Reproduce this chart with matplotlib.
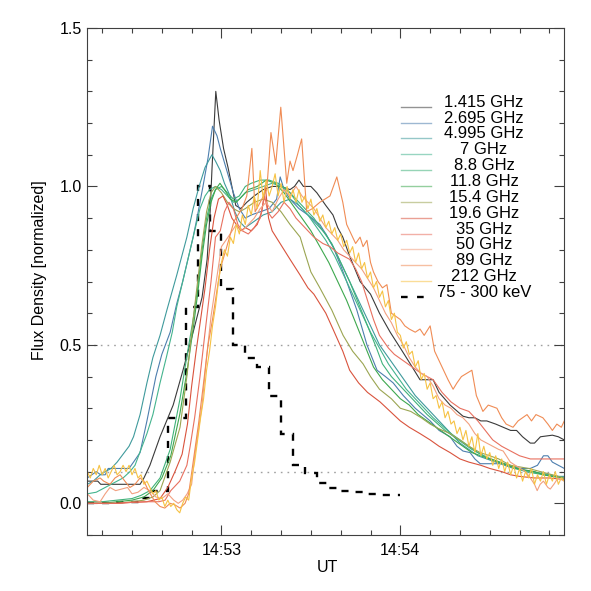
import matplotlib
matplotlib.use("Agg")
import matplotlib.pyplot as plt
import numpy as np
from matplotlib.ticker import MultipleLocator, FixedLocator, FixedFormatter

plt.rcParams['font.family'] = ['Liberation Sans', 'DejaVu Sans']

# time in seconds after 14:52:00 UT, normalized flux density
f1415 = [(15,0.07),(18.5,0.07),(19.5,0.06),(32.7,0.06),(34,0.08),(36,0.12),(39.4,0.21),(43.8,0.31),(47.1,0.42),(50.5,0.54),(53.5,0.65),(55.2,0.77),(56.2,0.92),(56.8,1.05),(58.1,1.30),(59.2,1.21),(60.7,1.12),(62.2,1.06),(63.5,1.0),(64.8,0.94),(66.5,0.93),(68.5,0.95),(71,0.97),(74,0.99),(77,1.0),(80,1.0),(83,0.99),(84.5,1.0),(86,1.02),(87.5,1.0),(90,1.0),(92,0.98),(95,0.94),(97.4,0.91),(99,0.87),(100.7,0.84),(103,0.78),(106.5,0.70),(110,0.66),(113,0.60),(116.6,0.54),(120,0.49),(124,0.43),(126.6,0.39),(129,0.39),(131,0.39),(133,0.35),(136.7,0.31),(141,0.275),(143,0.27),(145,0.27),(147,0.26),(149,0.26),(152,0.25),(154.5,0.24),(157,0.23),(159,0.23),(161,0.21),(163.6,0.19),(165,0.19),(167,0.21),(171,0.215),(173,0.21),(175,0.20)]
f2695 = [(15,0.08),(16.5,0.09),(18,0.10),(19.5,0.09),(21,0.09),(22,0.11),(29,0.11),(30.5,0.13),(32.7,0.16),(35,0.26),(38,0.40),(40,0.47),(42.8,0.54),(45,0.63),(47,0.70),(49,0.78),(50.5,0.84),(52,0.91),(53.8,1.0),(55.5,1.09),(57,1.19),(58.5,1.16),(59.6,1.12),(61.8,1.05),(64,0.98),(66,0.93),(68,0.90),(70,0.91),(73,0.92),(76,0.93),(78.5,0.96),(79.7,1.03),(81,0.99),(83,0.96),(86,0.93),(89,0.91),(93,0.88),(95,0.85),(97.4,0.81),(100,0.75),(102,0.70),(105.4,0.61),(108.8,0.50),(112.2,0.42),(115,0.40),(117.6,0.38),(121,0.34),(125,0.30),(130,0.26),(133,0.23),(136.7,0.21),(139,0.18),(141,0.165),(143.4,0.16),(145,0.14),(146.8,0.125),(154.5,0.125),(157,0.12),(160,0.11),(163.6,0.11),(166,0.12),(168,0.15),(169.5,0.15),(171,0.13),(173,0.12),(175,0.11)]
f4995 = [(15,0.06),(17,0.07),(19.3,0.09),(21,0.10),(23,0.11),(25,0.13),(27,0.155),(29,0.18),(30.5,0.21),(32.7,0.28),(35,0.38),(37,0.46),(39.4,0.53),(41.7,0.61),(45,0.72),(48.4,0.84),(50.5,0.93),(52.5,1.0),(54.5,1.06),(56.8,1.10),(58,1.08),(59.6,1.05),(61,1.01),(62.9,0.97),(64.5,0.92),(66,0.89),(68,0.87),(71,0.89),(74,0.91),(77,0.92),(80,0.95),(83,0.96),(86,0.94),(89,0.91),(92,0.88),(95,0.85),(98,0.80),(101,0.74),(104,0.68),(107,0.62),(110,0.56),(113,0.50),(116,0.46),(119,0.42),(122,0.38),(125,0.34),(128,0.31),(131,0.28),(134,0.25),(137,0.22),(140,0.19),(143,0.17),(146,0.15),(149,0.14),(152,0.13),(155,0.12),(158,0.11),(161,0.105),(164,0.10),(167,0.095),(170,0.09),(173,0.085),(175,0.085)]
f7 = [(15,0.03),(18,0.035),(21,0.05),(24,0.065),(27,0.08),(29.3,0.10),(31,0.12),(33,0.17),(35,0.22),(37,0.28),(39.4,0.38),(41.5,0.46),(43.5,0.54),(45,0.62),(47,0.70),(49,0.78),(50.5,0.84),(52.8,0.93),(54.5,0.97),(56,0.99),(58,1.0),(60,0.99),(62,0.97),(64,0.95),(66,0.96),(68,0.98),(71,0.99),(74,1.0),(77,1.01),(80,1.0),(83,0.98),(86,0.94),(89,0.91),(92,0.87),(95,0.83),(98,0.78),(101,0.72),(104,0.66),(107,0.60),(110,0.54),(113,0.49),(116,0.44),(119,0.40),(122,0.36),(125,0.33),(128,0.30),(131,0.27),(134,0.245),(137,0.22),(140,0.20),(143,0.18),(146,0.16),(149,0.145),(152,0.135),(155,0.125),(158,0.115),(161,0.105),(164,0.10),(167,0.095),(170,0.09),(175,0.08)]
f88 = [(15,0.005),(20,0.005),(25,0.01),(30,0.015),(33,0.025),(36,0.04),(39.4,0.08),(42.8,0.17),(46.1,0.33),(48.5,0.47),(50.5,0.58),(52,0.68),(53.5,0.80),(55,0.90),(56.5,0.96),(58,0.99),(60,1.0),(62,0.98),(64,0.96),(66,0.97),(68,1.0),(70,1.01),(73,1.02),(76,1.02),(79,1.01),(82,0.99),(85,0.96),(88,0.93),(91,0.90),(94,0.86),(97,0.82),(100,0.76),(103,0.70),(106,0.63),(109,0.56),(112,0.49),(114,0.44),(117,0.40),(120,0.37),(123,0.34),(126,0.31),(129,0.28),(132,0.255),(135,0.23),(138,0.21),(141,0.19),(144,0.17),(147,0.155),(150,0.14),(153,0.13),(156,0.12),(159,0.11),(162,0.10),(165,0.095),(168,0.09),(171,0.085),(175,0.08)]
f118 = [(15,0.0),(20,0.0),(25,0.005),(30,0.01),(34,0.02),(37,0.04),(40,0.08),(43,0.15),(46,0.28),(48.5,0.42),(50.5,0.55),(52,0.66),(53.5,0.78),(55,0.88),(56.5,0.95),(58,0.99),(59.5,1.01),(61,0.99),(63,0.96),(65,0.95),(67,0.97),(69,0.99),(72,1.0),(75,1.02),(78,1.01),(81,0.98),(84,0.94),(87,0.90),(90,0.86),(93,0.81),(96,0.76),(99,0.70),(102,0.64),(105,0.57),(108,0.50),(111,0.43),(114,0.39),(117,0.36),(120,0.33),(123,0.31),(126,0.28),(129,0.26),(132,0.24),(135,0.22),(138,0.20),(141,0.18),(144,0.16),(147,0.15),(150,0.14),(153,0.13),(156,0.12),(159,0.11),(162,0.105),(165,0.10),(168,0.09),(171,0.085),(175,0.08)]
f154 = [(15,0.0),(20,0.0),(25,0.0),(30,0.005),(34,0.01),(37,0.02),(39.4,0.04),(42.8,0.13),(46.1,0.24),(48.4,0.40),(50.5,0.58),(52,0.70),(53.5,0.82),(55,0.92),(56.5,0.98),(58,1.0),(60,0.98),(62,0.95),(64,0.93),(66,0.92),(68,0.93),(71,0.95),(74,0.96),(77,0.95),(80,0.92),(83,0.88),(86.4,0.84),(88,0.79),(90,0.73),(93,0.68),(97,0.61),(100.8,0.53),(104,0.48),(107.5,0.44),(110,0.40),(113,0.36),(117,0.33),(120,0.30),(123.5,0.29),(127,0.27),(130,0.25),(133,0.235),(136.7,0.22),(140,0.20),(143,0.18),(146.8,0.16),(150,0.15),(153,0.14),(156.9,0.12),(160,0.115),(163,0.11),(167,0.10),(171,0.09),(175,0.08)]
f196 = [(15,0.0),(20,0.0),(25,0.0),(30,0.003),(35,0.005),(39.4,0.015),(42,0.05),(44.4,0.10),(46.8,0.155),(48.6,0.25),(50,0.37),(51.5,0.48),(53,0.58),(54.5,0.68),(56,0.80),(57.5,0.90),(59,0.96),(60.5,0.97),(62,0.94),(63.5,0.90),(65,0.88),(66.5,0.86),(68,0.87),(70,0.86),(72,0.88),(73.5,0.92),(74.7,1.0),(75.8,0.90),(77,0.86),(79,0.83),(81,0.80),(83,0.77),(86.4,0.72),(89,0.68),(91,0.66),(93,0.63),(95,0.60),(97.4,0.55),(100.7,0.48),(103,0.42),(106,0.38),(109,0.35),(113.2,0.32),(116.6,0.29),(120,0.26),(123,0.24),(126.6,0.22),(130,0.20),(133,0.18),(136.7,0.16),(140,0.14),(143,0.13),(147,0.12),(150,0.11),(154,0.10),(157,0.09),(160,0.085),(165,0.08),(170,0.08),(175,0.075)]
f35 = [(15,0.0),(20,0.0),(25,0.0),(30,0.003),(35,0.005),(39,0.005),(41.1,0.01),(43,0.04),(46,0.07),(48.4,0.12),(49.5,0.18),(51,0.27),(52.8,0.40),(54.5,0.54),(56.5,0.70),(58,0.84),(59.6,0.86),(61,0.92),(62.5,0.95),(64,0.93),(65.5,0.88),(67,0.86),(69,0.85),(71,0.87),(73,0.90),(74.5,0.97),(75.5,0.92),(77,0.90),(79,0.92),(81,0.95),(83,0.93),(85,0.90),(88,0.87),(91,0.84),(94,0.82),(96.4,0.81),(99,0.79),(101,0.78),(103,0.77),(105,0.74),(107,0.70),(109,0.64),(111,0.58),(113,0.53),(116,0.49),(118,0.47),(121,0.45),(124,0.43),(127,0.41),(131,0.39),(134,0.35),(137,0.32),(140,0.30),(143,0.29),(146,0.26),(148.5,0.23),(151,0.20),(154,0.18),(157,0.165),(160,0.15),(163.6,0.14),(167,0.14),(171,0.14),(175,0.14)]
f50 = [(15,0.03),(17,0.01),(19.3,0.005),(21,0.03),(22.6,0.05),(24.5,0.04),(26.5,0.045),(28.5,0.05),(30,0.03),(32,0.035),(34,0.05),(36,0.04),(38,0.02),(40,0.015),(42,0.03),(44,0.01),(45.5,0.0),(47,0.01),(48.5,0.03),(50,0.06),(51.1,0.155),(53.5,0.31),(55,0.46),(56.5,0.59),(58.4,0.71),(60,0.81),(62.2,0.84),(65,0.88),(67,0.86),(69,0.88),(71,0.90),(73,0.93),(75,0.95),(77,0.92),(79,0.96),(81,0.99),(83,0.97),(85,1.0),(87,0.97),(89,0.95),(91,0.93),(93,0.90),(95,0.87),(97,0.85),(99,0.83),(101,0.80),(103,0.78),(105,0.76),(107,0.74),(109,0.71),(111,0.68),(113,0.64),(115,0.60),(117,0.57),(119,0.53),(121,0.50),(123,0.46),(125,0.43),(127,0.41),(129,0.40),(131,0.37),(133,0.33),(135,0.31),(137,0.30),(139,0.28),(141,0.27),(143,0.25),(145,0.22),(147,0.20),(149,0.19),(151,0.18),(153,0.17),(154.5,0.165),(156.9,0.13),(160.2,0.11),(162,0.10),(163.6,0.08),(165,0.06),(165.9,0.04),(166.9,0.06),(168,0.07),(169.5,0.05),(170.3,0.045),(171.5,0.06),(172.9,0.08),(175,0.07)]
f89 = [(15,0.05),(17,0.07),(19.3,0.08),(20.5,0.07),(22.6,0.06),(24.3,0.08),(26,0.09),(27.6,0.07),(29.3,0.05),(31,0.06),(32.7,0.08),(34,0.07),(35.5,0.04),(37.7,0.005),(39.4,-0.01),(41,-0.015),(42.8,0.0),(44.4,-0.005),(46.1,-0.015),(47.8,0.0),(49,0.03),(50.5,0.13),(52.3,0.25),(54,0.38),(55.5,0.50),(57,0.58),(59.6,0.74),(61.8,0.81),(64.2,0.89),(66.9,0.93),(68.5,0.97),(70.2,1.12),(71.3,0.92),(73,0.95),(75.2,0.99),(76.6,1.17),(78.2,1.07),(79.9,1.25),(81.9,1.01),(83,1.08),(84,1.05),(85.5,1.10),(86.9,1.15),(88.6,0.92),(90.5,0.93),(93,0.95),(96.4,0.97),(98.7,1.03),(100.7,0.95),(102,0.88),(103.5,0.85),(105,0.82),(106.5,0.84),(107.5,0.81),(108.8,0.83),(110,0.76),(111,0.73),(112.5,0.70),(114,0.68),(115.5,0.69),(117,0.60),(118.5,0.59),(120,0.58),(121.5,0.56),(123,0.55),(125,0.54),(126.6,0.55),(128,0.53),(130,0.56),(131.5,0.48),(133,0.45),(134.5,0.42),(136,0.39),(137.7,0.36),(139,0.38),(140.5,0.40),(144,0.42),(145.5,0.34),(147.7,0.29),(149.5,0.31),(152.4,0.30),(154,0.27),(155.5,0.25),(157.8,0.24),(159.5,0.26),(162.5,0.28),(164,0.26),(165.5,0.28),(167.8,0.27),(169.5,0.25),(171,0.23),(172.5,0.25),(174,0.24),(175,0.26)]
f212_t0 = 15
f212 = [0.10,0.08,0.11,0.09,0.12,0.09,0.11,0.08,0.10,0.12,0.09,0.10,0.12,0.10,0.12,0.09,0.11,0.08,0.09,0.06,0.07,0.05,0.03,0.04,0.01,0.02,-0.01,0.01,-0.01,0.0,-0.02,-0.03,0.0,0.02,0.01,0.08,0.13,0.20,0.27,0.33,0.42,0.48,0.56,0.62,0.70,0.76,0.80,0.78,0.84,0.82,0.88,0.85,0.91,0.88,0.94,0.91,0.97,0.93,1.05,0.96,1.02,0.97,1.00,1.04,0.97,1.01,0.95,1.00,0.96,0.99,0.95,0.99,0.95,0.97,0.93,0.96,0.91,0.93,0.89,0.91,0.87,0.89,0.85,0.87,0.83,0.85,0.81,0.83,0.79,0.81,0.76,0.79,0.74,0.76,0.71,0.73,0.68,0.70,0.65,0.67,0.62,0.64,0.58,0.60,0.54,0.53,0.49,0.51,0.47,0.48,0.43,0.45,0.39,0.41,0.36,0.38,0.33,0.34,0.30,0.32,0.27,0.29,0.25,0.26,0.22,0.24,0.20,0.23,0.18,0.21,0.16,0.22,0.15,0.18,0.14,0.16,0.12,0.15,0.11,0.14,0.10,0.13,0.09,0.12,0.08,0.11,0.07,0.10,0.08,0.11,0.06,0.09,0.07,0.10,0.06,0.09,0.07,0.10,0.06,0.08,0.07]

hxr_edges = [15,24,33,36,42,48,52,56,60,64,68,72,76,80,84,88,92,96,100,104,108,112,116,120]
hxr_vals = [0.0,0.005,0.016,0.038,0.27,0.62,1.0,0.86,0.675,0.50,0.46,0.43,0.34,0.22,0.12,0.095,0.065,0.047,0.04,0.035,0.03,0.027,0.025]

labels = ['1.415 GHz','2.695 GHz','4.995 GHz','7 GHz','8.8 GHz','11.8 GHz','15.4 GHz','19.6 GHz','35 GHz','50 GHz','89 GHz','212 GHz']
colors = ['#3a3a3a','#4d7eae','#3f9a9c','#44b48e','#40b27a','#3da84e','#9ba552','#d9533d','#e8705f','#f2a080','#f08c55','#f6c244']

fig = plt.figure(figsize=(5.91, 5.91), dpi=100)
W = H = 591.0
ax = fig.add_axes([87.3/W, 1-535/H, 477/W, 507/H])

series = [f1415, f2695, f4995, f7, f88, f118, f154, f196, f35, f50, f89]
for s, c in zip(series, colors[:11]):
    t, v = zip(*s)
    ax.plot(t, v, color=c, lw=0.8)
t212 = f212_t0 + np.arange(len(f212))
ax.plot(t212, f212, color=colors[11], lw=0.8)

ax.stairs(hxr_vals, hxr_edges, baseline=None, color='black', lw=1.7,
          linestyle=(0, (3.0, 3.4)))

for yl in (0.5, 0.1):
    ax.axhline(yl, color='#a0a0a0', lw=1.0, ls=(0, (1.2, 3.6)), zorder=0)

ax.set_xlim(15, 175)
ax.set_ylim(-0.1, 1.5)
ax.xaxis.set_major_locator(FixedLocator([60, 120]))
ax.xaxis.set_major_formatter(FixedFormatter(['14:53', '14:54']))
ax.xaxis.set_minor_locator(MultipleLocator(10))
ax.yaxis.set_major_locator(FixedLocator([0, 0.5, 1.0, 1.5]))
ax.yaxis.set_major_formatter(FixedFormatter(['0.0', '0.5', '1.0', '1.5']))
ax.yaxis.set_minor_locator(MultipleLocator(0.1))
ax.tick_params(which='both', direction='in', top=True, right=True, color='#404040', width=0.8, labelsize=11.5)
ax.tick_params(which='major', length=7)
ax.tick_params(which='minor', length=3.5)
ax.tick_params(axis='x', pad=6)
ax.tick_params(axis='y', pad=4)
for sp in ax.spines.values():
    sp.set_color('#404040')
    sp.set_linewidth(0.8)

fig.text(40/W, 1-270/H, 'Flux Density [normalized]', rotation=90, ha='center', va='center', fontsize=11.5)
fig.text(327/W, 1-568/H, 'UT', ha='center', va='center', fontsize=11.5)

# legend drawn manually (IDL style, centered labels)
row0 = 106.7
dy = 15.86
lx0, lx1, tx = 400.7, 430.7, 484
for i, (lab, c) in enumerate(zip(labels + ['75 - 300 keV'], colors + ['black'])):
    py = row0 + i*dy
    if i < 12:
        fig.add_artist(plt.Line2D([lx0/W, lx1/W], [1-py/H, 1-py/H], color=c, lw=1.0, alpha=0.55))
    else:
        fig.add_artist(plt.Line2D([lx0/W, 424/W], [1-py/H, 1-py/H], color='black', lw=1.7, ls=(0, (2.8, 4.0))))
    fig.text(tx/W, 1-(py-4.5)/H, lab, ha='center', va='center', fontsize=12)

fig.savefig('out.png', dpi=100, facecolor='white')
